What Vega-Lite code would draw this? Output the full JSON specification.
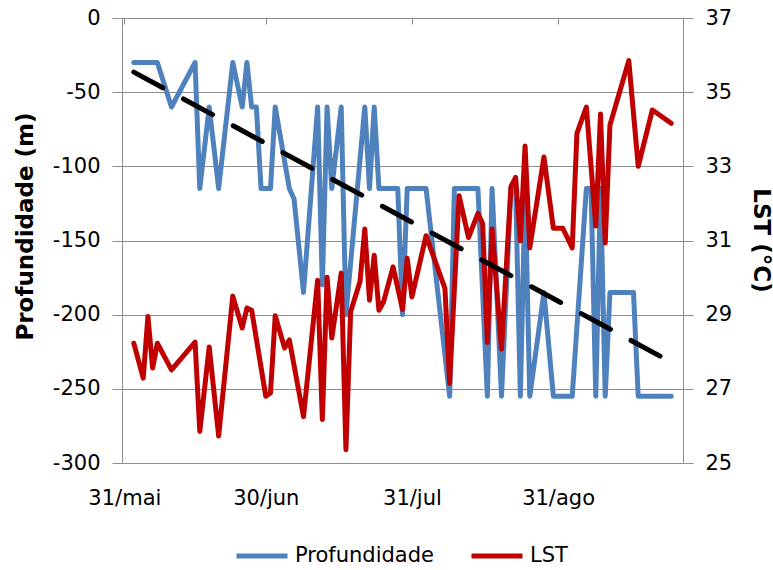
{
  "$schema": "https://vega.github.io/schema/vega-lite/v6.json",
  "width": 561,
  "height": 445,
  "autosize": {"type": "none"},
  "padding": {"left": 122, "top": 18, "right": 90, "bottom": 107},
  "background": "white",
  "config": {
    "view": {"stroke": null},
    "font": "DejaVu Sans",
    "axis": {
      "labelFont": "DejaVu Sans",
      "labelFontSize": 21,
      "labelColor": "#000000",
      "titleFont": "DejaVu Sans",
      "titleFontSize": 23,
      "titleFontWeight": "bold",
      "titleColor": "#000000",
      "domainColor": "#8e8e8e",
      "tickColor": "#8e8e8e",
      "gridColor": "#8e8e8e",
      "domainWidth": 1,
      "tickWidth": 1,
      "gridWidth": 1
    }
  },
  "datasets": {
    "depth": [
      {"date": "2013-06-02", "depth": -30},
      {"date": "2013-06-07", "depth": -30},
      {"date": "2013-06-10", "depth": -60},
      {"date": "2013-06-15", "depth": -30},
      {"date": "2013-06-16", "depth": -115},
      {"date": "2013-06-18", "depth": -60},
      {"date": "2013-06-20", "depth": -115},
      {"date": "2013-06-23", "depth": -30},
      {"date": "2013-06-25", "depth": -60},
      {"date": "2013-06-26", "depth": -30},
      {"date": "2013-06-27", "depth": -60},
      {"date": "2013-06-28", "depth": -60},
      {"date": "2013-06-29", "depth": -115},
      {"date": "2013-07-01", "depth": -115},
      {"date": "2013-07-02", "depth": -60},
      {"date": "2013-07-05", "depth": -115},
      {"date": "2013-07-06", "depth": -122},
      {"date": "2013-07-08", "depth": -185},
      {"date": "2013-07-11", "depth": -60},
      {"date": "2013-07-12", "depth": -180},
      {"date": "2013-07-13", "depth": -60},
      {"date": "2013-07-14", "depth": -115},
      {"date": "2013-07-16", "depth": -60},
      {"date": "2013-07-17", "depth": -200},
      {"date": "2013-07-21", "depth": -60},
      {"date": "2013-07-22", "depth": -115},
      {"date": "2013-07-23", "depth": -60},
      {"date": "2013-07-24", "depth": -115},
      {"date": "2013-07-28", "depth": -115},
      {"date": "2013-07-29", "depth": -200},
      {"date": "2013-07-30", "depth": -115},
      {"date": "2013-08-03", "depth": -115},
      {"date": "2013-08-08", "depth": -255},
      {"date": "2013-08-09", "depth": -115},
      {"date": "2013-08-14", "depth": -115},
      {"date": "2013-08-16", "depth": -255},
      {"date": "2013-08-17", "depth": -115},
      {"date": "2013-08-19", "depth": -255},
      {"date": "2013-08-21", "depth": -115},
      {"date": "2013-08-22", "depth": -115},
      {"date": "2013-08-23", "depth": -255},
      {"date": "2013-08-24", "depth": -115},
      {"date": "2013-08-25", "depth": -255},
      {"date": "2013-08-28", "depth": -185},
      {"date": "2013-08-30", "depth": -255},
      {"date": "2013-09-03", "depth": -255},
      {"date": "2013-09-06", "depth": -115},
      {"date": "2013-09-07", "depth": -115},
      {"date": "2013-09-08", "depth": -255},
      {"date": "2013-09-09", "depth": -115},
      {"date": "2013-09-10", "depth": -255},
      {"date": "2013-09-11", "depth": -185},
      {"date": "2013-09-16", "depth": -185},
      {"date": "2013-09-17", "depth": -255},
      {"date": "2013-09-24", "depth": -255}
    ],
    "lst": [
      {"date": "2013-06-02", "lst": 28.23},
      {"date": "2013-06-04", "lst": 27.29},
      {"date": "2013-06-05", "lst": 28.95},
      {"date": "2013-06-06", "lst": 27.56},
      {"date": "2013-06-07", "lst": 28.23},
      {"date": "2013-06-10", "lst": 27.51},
      {"date": "2013-06-15", "lst": 28.26},
      {"date": "2013-06-16", "lst": 25.85},
      {"date": "2013-06-18", "lst": 28.13},
      {"date": "2013-06-20", "lst": 25.73},
      {"date": "2013-06-23", "lst": 29.5},
      {"date": "2013-06-25", "lst": 28.64},
      {"date": "2013-06-26", "lst": 29.18},
      {"date": "2013-06-27", "lst": 29.12},
      {"date": "2013-06-30", "lst": 26.8},
      {"date": "2013-07-01", "lst": 26.89},
      {"date": "2013-07-02", "lst": 28.97},
      {"date": "2013-07-04", "lst": 28.1},
      {"date": "2013-07-05", "lst": 28.32},
      {"date": "2013-07-08", "lst": 26.25},
      {"date": "2013-07-11", "lst": 29.93},
      {"date": "2013-07-12", "lst": 26.17},
      {"date": "2013-07-13", "lst": 30.01},
      {"date": "2013-07-14", "lst": 28.37},
      {"date": "2013-07-16", "lst": 30.12},
      {"date": "2013-07-17", "lst": 25.36},
      {"date": "2013-07-18", "lst": 29.08},
      {"date": "2013-07-20", "lst": 29.9},
      {"date": "2013-07-21", "lst": 31.31},
      {"date": "2013-07-22", "lst": 29.39},
      {"date": "2013-07-23", "lst": 30.6},
      {"date": "2013-07-24", "lst": 29.12},
      {"date": "2013-07-25", "lst": 29.35},
      {"date": "2013-07-27", "lst": 30.29},
      {"date": "2013-07-29", "lst": 29.14},
      {"date": "2013-07-30", "lst": 30.52},
      {"date": "2013-07-31", "lst": 29.48},
      {"date": "2013-08-03", "lst": 31.13},
      {"date": "2013-08-07", "lst": 29.71},
      {"date": "2013-08-08", "lst": 27.15},
      {"date": "2013-08-10", "lst": 32.21},
      {"date": "2013-08-12", "lst": 31.08},
      {"date": "2013-08-14", "lst": 31.73},
      {"date": "2013-08-15", "lst": 31.46},
      {"date": "2013-08-16", "lst": 28.25},
      {"date": "2013-08-17", "lst": 31.31},
      {"date": "2013-08-19", "lst": 28.07},
      {"date": "2013-08-21", "lst": 32.45},
      {"date": "2013-08-22", "lst": 32.7},
      {"date": "2013-08-23", "lst": 30.99},
      {"date": "2013-08-24", "lst": 33.55},
      {"date": "2013-08-25", "lst": 30.8},
      {"date": "2013-08-28", "lst": 33.25},
      {"date": "2013-08-30", "lst": 31.33},
      {"date": "2013-09-01", "lst": 31.33},
      {"date": "2013-09-03", "lst": 30.8},
      {"date": "2013-09-04", "lst": 33.89},
      {"date": "2013-09-06", "lst": 34.6},
      {"date": "2013-09-08", "lst": 31.39},
      {"date": "2013-09-09", "lst": 34.41},
      {"date": "2013-09-10", "lst": 30.93},
      {"date": "2013-09-11", "lst": 34.11},
      {"date": "2013-09-15", "lst": 35.85},
      {"date": "2013-09-17", "lst": 33.0},
      {"date": "2013-09-20", "lst": 34.52},
      {"date": "2013-09-24", "lst": 34.16}
    ],
    "trend": [
      {"date": "2013-06-02", "depth": -36.5},
      {"date": "2013-09-24", "depth": -232}
    ]
  },
  "layer": [
    {
      "data": {"name": "depth"},
      "mark": {"type": "line", "strokeWidth": 5, "strokeJoin": "round", "strokeCap": "round"},
      "encoding": {
        "x": {
          "field": "date",
          "type": "temporal",
          "scale": {
            "type": "utc",
            "domain": [
              {"year": 2013, "month": 5, "date": 30, "hours": 12, "utc": true},
              {"year": 2013, "month": 9, "date": 26, "hours": 12, "utc": true}
            ]
          },
          "axis": {
            "orient": "bottom",
            "values": [
              {"year": 2013, "month": 5, "date": 31, "utc": true},
              {"year": 2013, "month": 6, "date": 30, "utc": true},
              {"year": 2013, "month": 7, "date": 31, "utc": true},
              {"year": 2013, "month": 8, "date": 31, "utc": true}
            ],
            "labelExpr": "utcdate(datum.value) + '/' + ['jan','fev','mar','abr','mai','jun','jul','ago','set','out','nov','dez'][utcmonth(datum.value)]",
            "domain": false,
            "ticks": false,
            "grid": false,
            "labelPadding": 24,
            "labelFlush": false,
            "labelOverlap": false,
            "title": null
          }
        },
        "y": {
          "field": "depth",
          "type": "quantitative",
          "scale": {"domain": [-300, 0], "nice": false, "zero": false},
          "axis": {
            "orient": "left",
            "values": [-300, -250, -200, -150, -100, -50, 0],
            "labelExpr": "'' + datum.value",
            "grid": true,
            "tickSize": 10,
            "labelPadding": 12,
            "title": "Profundidade (m)",
            "titleAngle": -90,
            "titleAlign": "center",
            "titleBaseline": "middle",
            "titleX": -97,
            "titleY": 208
          }
        },
        "color": {
          "datum": "Profundidade",
          "type": "nominal",
          "scale": {"domain": ["Profundidade", "LST"], "range": ["#4F81BD", "#C00000"]},
          "legend": {
            "orient": "none",
            "legendX": 112,
            "legendY": 510,
            "direction": "horizontal",
            "title": null,
            "symbolType": "stroke",
            "symbolSize": 2601,
            "symbolStrokeWidth": 5,
            "labelFont": "DejaVu Sans",
            "labelFontSize": 21,
            "labelColor": "#000000",
            "labelOffset": 5,
            "columnPadding": 27,
            "padding": 0
          }
        }
      }
    },
    {
      "data": {"name": "lst"},
      "mark": {"type": "line", "strokeWidth": 5, "strokeJoin": "round", "strokeCap": "round"},
      "encoding": {
        "x": {
          "field": "date",
          "type": "temporal",
          "axis": {
            "orient": "top",
            "values": [
              {"year": 2013, "month": 5, "date": 31, "utc": true},
              {"year": 2013, "month": 6, "date": 30, "utc": true},
              {"year": 2013, "month": 7, "date": 31, "utc": true},
              {"year": 2013, "month": 8, "date": 31, "utc": true}
            ],
            "labels": false,
            "grid": false,
            "domain": true,
            "ticks": true,
            "tickSize": -6,
            "title": null
          }
        },
        "y": {
          "field": "lst",
          "type": "quantitative",
          "scale": {"domain": [25, 37], "nice": false, "zero": false},
          "axis": {
            "orient": "right",
            "values": [25, 27, 29, 31, 33, 35, 37],
            "grid": false,
            "tickSize": 10,
            "labelPadding": 12,
            "title": "LST (°C)",
            "titleAngle": 90,
            "titleAlign": "center",
            "titleBaseline": "middle",
            "titleX": 77,
            "titleY": 222
          }
        },
        "color": {"datum": "LST", "type": "nominal"}
      }
    },
    {
      "data": {"name": "trend"},
      "mark": {"type": "line", "color": "#000000", "strokeWidth": 5, "strokeDash": [33, 23.5], "strokeCap": "round"},
      "encoding": {
        "x": {"field": "date", "type": "temporal", "axis": null},
        "y": {
          "field": "depth",
          "type": "quantitative",
          "scale": {"domain": [-300, 0], "nice": false, "zero": false},
          "axis": null
        }
      }
    }
  ],
  "resolve": {
    "scale": {"y": "independent"},
    "axis": {"x": "independent", "y": "independent"}
  }
}
